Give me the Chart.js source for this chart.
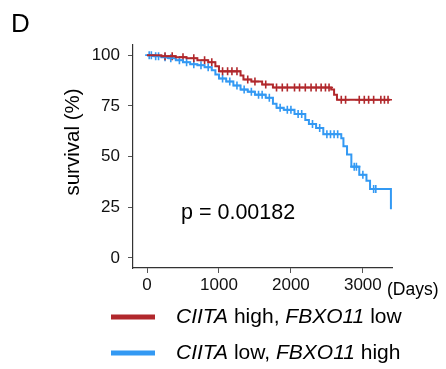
<!DOCTYPE html>
<html lang="en">
<head>
<meta charset="UTF-8">
<title>Survival</title>
<script src="https://cdn.jsdelivr.net/npm/chart.js"></script>
<style>
  body { margin: 0; background: #fff; }
  #wrap { position: relative; width: 446px; height: 369px; }
</style>
</head>
<body>
<div id="wrap"><canvas id="km" width="446" height="369"></canvas></div>
<script>
// Kaplan-Meier steps: time (days) where survival drops, and survival (%) after the drop
const redTimes = [0, 200, 400, 550, 700, 850, 950, 1000, 1300, 1340, 1450, 1600, 1750, 2560, 2600, 2640, 3380];
const redSurv  = [100, 99.5, 99, 98.5, 97.5, 96.5, 94.5, 92, 90, 88, 87, 85.5, 84, 83, 80.5, 78, 78];
const blueTimes = [0, 100, 200, 300, 400, 500, 600, 700, 800, 900, 950, 1000, 1100, 1200, 1300, 1400, 1500, 1650, 1750, 1800, 1900, 2050, 2200, 2250, 2350, 2450, 2700, 2730, 2780, 2840, 2950, 3050, 3100, 3390];
const blueSurv  = [100, 99.5, 99, 98.5, 97.5, 96.5, 95.5, 95, 94, 92.5, 90.5, 88.5, 87, 85, 83, 82, 80.5, 79, 76, 74, 73, 71, 68, 66, 64, 61, 59, 55, 51, 45, 41, 38, 34, 24];
// censored observations (days)
const redCensor = [250, 350, 500, 650, 800, 900, 1050, 1120, 1180, 1250, 1400, 1500, 1650, 1800, 1880, 1950, 2050, 2120, 2200, 2280, 2350, 2420, 2480, 2530, 2700, 2760, 2950, 3020, 3080, 3150, 3250, 3300, 3350];
const blueCensor = [30, 60, 120, 160, 250, 330, 450, 550, 650, 750, 850, 1050, 1150, 1250, 1350, 1450, 1550, 1600, 1700, 1850, 1950, 2000, 2100, 2150, 2300, 2400, 2500, 2550, 2600, 2650, 2880, 2910, 3000, 3150, 3180];
const xTicks = [0, 1000, 2000, 3000];
const yTicks = [0, 25, 50, 75, 100];

const RED = '#b1282c';
const BLUE = '#3399f3';
const FONT = "'Liberation Sans', Arial, sans-serif";

function stepAt(times, surv, t) {
  let s = surv[0];
  for (let i = 0; i < times.length; i++) {
    if (times[i] <= t) s = surv[i];
  }
  return s;
}

const pts = (ts, ss) => ts.map((t, i) => ({x: t, y: ss[i]}));
const censorPts = (cs, ts, ss) => cs.map(t => ({x: t, y: stepAt(ts, ss, t)}));

// extra text + legend drawn on the canvas
const extras = {
  id: 'extras',
  afterDraw(chart) {
    const c = chart.ctx;
    c.save();
    c.fillStyle = '#000';
    c.textBaseline = 'alphabetic';
    c.font = '26px ' + FONT;
    c.fillText('D', 11, 32);

    c.font = '21.5px ' + FONT;
    c.fillText('p = 0.00182', 181, 219);

    c.font = '17.5px ' + FONT;
    c.fillText('(Days)', 387, 295);

    // y title
    c.save();
    c.translate(79, 142);
    c.rotate(-Math.PI / 2);
    c.textAlign = 'center';
    c.font = '20.5px ' + FONT;
    c.fillText('survival (%)', 0, 0);
    c.restore();

    // legend
    const rows = [
      {color: RED, y: 317, parts: [['CIITA', true], [' high, ', false], ['FBXO11', true], [' low', false]]},
      {color: BLUE, y: 353, parts: [['CIITA', true], [' low, ', false], ['FBXO11', true], [' high', false]]}
    ];
    rows.forEach(r => {
      c.fillStyle = r.color;
      c.fillRect(111, r.y - 2.5, 44, 5);
      c.fillStyle = '#000';
      c.textBaseline = 'middle';
      let x = 176;
      r.parts.forEach(([txt, it]) => {
        c.font = (it ? 'italic ' : '') + '21px ' + FONT;
        c.fillText(txt, x, r.y);
        x += c.measureText(txt).width;
      });
    });
    c.restore();
  }
};

new Chart(document.getElementById('km'), {
  type: 'scatter',
  data: {
    datasets: [
      {data: pts(redTimes, redSurv), showLine: true, stepped: 'before', borderColor: RED, borderWidth: 2, pointRadius: 0},
      {data: pts(blueTimes, blueSurv), showLine: true, stepped: 'before', borderColor: BLUE, borderWidth: 2, pointRadius: 0},
      {data: censorPts(redCensor, redTimes, redSurv), pointStyle: 'cross', pointRadius: 4, borderColor: RED, borderWidth: 1.6, backgroundColor: RED},
      {data: censorPts(blueCensor, blueTimes, blueSurv), pointStyle: 'cross', pointRadius: 4, borderColor: BLUE, borderWidth: 1.6, backgroundColor: BLUE}
    ]
  },
  options: {
    responsive: false,
    animation: false,
    events: [],
    layout: {padding: {left: 0, right: 54, top: 45, bottom: 71}},
    plugins: {legend: {display: false}, tooltip: {enabled: false}},
    scales: {
      x: {
        type: 'linear', min: -195, max: 3405,
        afterBuildTicks: s => { s.ticks = xTicks.map(v => ({value: v})); },
        afterFit: s => { s.height = 30; },
        grid: {drawOnChartArea: false, drawTicks: true, tickLength: 5, color: '#555'},
        border: {color: '#333', width: 1.2},
        ticks: {color: '#111', font: {family: FONT, size: 17}, padding: 2, maxRotation: 0, callback: v => String(v)}
      },
      y: {
        type: 'linear', min: -5, max: 105,
        afterBuildTicks: s => { s.ticks = yTicks.map(v => ({value: v})); },
        afterFit: s => { s.width = 133; },
        grid: {drawOnChartArea: false, drawTicks: true, tickLength: 5, color: '#555'},
        border: {color: '#333', width: 1.2},
        ticks: {color: '#111', font: {family: FONT, size: 17}, padding: 8, callback: v => String(v)}
      }
    }
  },
  plugins: [extras]
});
</script>
</body>
</html>
